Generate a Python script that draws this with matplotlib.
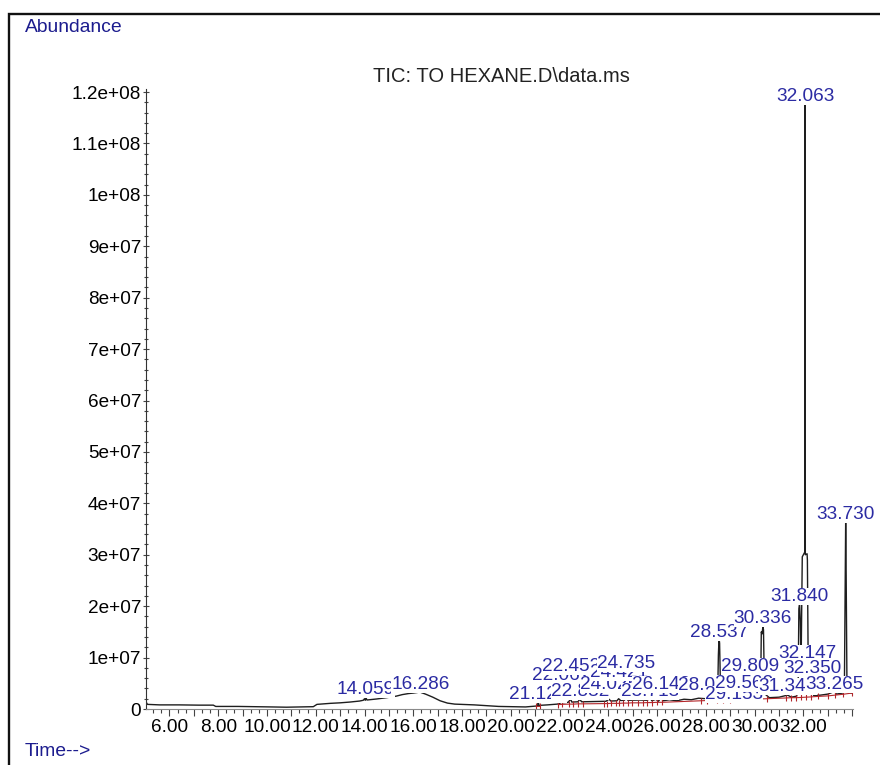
import numpy as np
import matplotlib.pyplot as plt
from matplotlib.patches import Rectangle
from matplotlib.ticker import MultipleLocator, FuncFormatter

plt.rcParams['font.family'] = ['Liberation Sans', 'DejaVu Sans']

# TIC background / peak shoulders (time in min, abundance in millions)
bg_time = [5.05, 5.10, 5.60, 6.40, 7.20, 7.80, 7.90, 8.80, 9.60, 10.20, 10.80, 11.40, 11.90,
           12.05, 12.30, 12.60, 13.00, 13.40, 13.80, 13.95, 14.00, 14.03, 14.10, 14.50, 14.90,
           15.30, 15.55, 15.80, 16.00, 16.15, 16.25, 16.32, 16.50, 16.80, 17.10, 17.40, 17.70,
           18.00, 18.50, 19.00, 19.50, 20.00, 20.60, 21.00, 21.10, 21.15, 21.50, 21.90, 22.02,
           22.10, 22.35, 22.50, 22.75, 22.90, 23.40, 23.90, 24.10, 24.35, 24.50, 24.65, 24.80,
           25.30, 25.60, 25.78, 25.95, 26.05, 26.25, 26.50, 26.80, 27.10, 27.40, 27.70, 28.00,
           28.10, 28.40, 28.48, 28.51, 28.56, 28.60, 28.70, 29.00, 29.25, 29.45, 29.65, 29.90,
           30.15, 30.24, 30.27, 30.30, 30.36, 30.40, 30.60, 31.00, 31.50, 31.72, 31.78, 31.81,
           31.87, 31.90, 31.95, 32.05, 32.075, 32.16, 32.20, 32.30, 32.42, 32.70, 33.00, 33.35,
           33.60, 33.68, 33.71, 33.75, 33.78, 33.85, 33.98]
bg_abund = [1.3, 0.9, 0.8, 0.8, 0.75, 0.75, 0.5, 0.5, 0.45, 0.4, 0.35, 0.4, 0.45,
            0.9, 1.0, 1.1, 1.2, 1.35, 1.55, 1.7, 2.0, 1.7, 1.75, 1.95, 2.2,
            2.5, 2.8, 3.0, 3.1, 3.2, 3.3, 3.2, 2.9, 2.3, 1.6, 1.15, 0.95,
            0.9, 0.8, 0.65, 0.5, 0.45, 0.4, 0.55, 0.6, 0.7, 0.8, 0.95, 1.1,
            1.2, 1.3, 1.35, 1.4, 1.4, 1.45, 1.5, 1.55, 1.6, 1.65, 1.7, 1.7,
            1.75, 1.7, 1.6, 1.9, 1.5, 1.6, 1.8, 1.6, 1.9, 1.8, 2.1, 2.0,
            2.0, 2.1, 2.6, 10.5, 12.8, 3.0, 2.1, 2.3, 2.1, 2.4, 2.2, 2.2,
            2.4, 3.0, 15.0, 14.6, 15.4, 3.0, 2.2, 2.3, 2.3, 2.5, 4.0, 19.5,
            17.0, 8.0, 29.6, 30.5, 30.0, 29.0, 4.0, 2.8, 2.6, 2.7, 2.9, 2.9,
            3.1, 6.0, 24.0, 26.0, 6.0, 3.2, 3.1]

# integrated peaks: retention time, apex abundance (millions), label height (millions)
peak_rt = [14.059, 16.286, 21.122, 22.062, 22.452, 22.832, 24.025, 24.421, 24.735, 25.713,
           26.142, 28.029, 28.537, 29.153, 29.562, 29.809, 30.336, 31.348, 31.840, 32.063,
           32.147, 32.350, 33.265, 33.730]
peak_top = [2.2, 3.7, 1.6, 2.1, 1.9, 1.9, 1.9, 2.0, 2.1, 2.2,
            2.1, 2.5, 13.8, 2.7, 2.9, 2.6, 16.0, 2.7, 20.6, 117.9,
            30.2, 3.4, 3.4, 36.8]
label_at = [4.1, 5.25, 3.3, 7.0, 8.75, 3.7, 5.1, 7.4, 9.3, 3.7,
            5.25, 4.9, 15.2, 3.3, 5.4, 8.6, 17.9, 4.7, 22.2, 119.6,
            11.1, 8.2, 5.25, 38.3]

# integration baseline with start/stop marks (millions)
base_time = [21.05, 21.20, np.nan, 21.95, 22.10, 22.40, 22.55, 22.75, 22.95, 23.80, 23.95,
             24.10, 24.30, 24.45, 24.60, 24.80, 24.95, 25.20, 25.40, 25.60, 25.80, 26.00,
             26.20, 27.80, 28.05, 28.45, 28.70, 29.00, 29.30, 29.60, 29.85, 30.20, 30.50,
             31.30, 31.50, 31.70, 31.90, 32.10, 32.30, 32.60, 33.00, 33.30, 33.60, 33.98]
base_abund = [0.5, 0.5, np.nan, 0.85, 0.9, 0.95, 0.95, 1.0, 1.0, 1.05, 1.05,
              1.1, 1.1, 1.1, 1.15, 1.15, 1.2, 1.2, 1.2, 1.25, 1.25, 1.3,
              1.3, 1.6, 1.65, 1.7, 1.75, 1.8, 1.85, 1.9, 1.9, 1.95, 2.0,
              2.15, 2.2, 2.2, 2.25, 2.3, 2.35, 2.45, 2.55, 2.7, 2.85, 3.1]

order = np.argsort(bg_time + peak_rt)
tic_t = np.array(bg_time + peak_rt)[order]
tic_y = np.array(bg_abund + peak_top)[order] * 1e6

fig = plt.figure(figsize=(8.8, 7.65), dpi=100)
ax = fig.add_axes([146 / 880, 56 / 765, 707 / 880, 620 / 765])

ax.plot(tic_t, tic_y, color="#1e1e1e", lw=1.0, zorder=2)
ax.plot(base_time, np.array(base_abund) * 1e6, color="#b3262a", lw=0.8,
        marker="|", ms=4, mew=0.8, zorder=2)

blue = "#2b2ba3"
for i, (rt, y) in enumerate(zip(peak_rt, label_at)):
    ax.text(rt, y * 1e6, f"{rt:.3f}", ha="center", va="center_baseline", fontsize=13.7,
            color=blue, zorder=5 + i,
            bbox=dict(facecolor="white", edgecolor="none", pad=0))

ax.set_xlim(5.04, 34.03)
ax.set_ylim(0, 1.206e8)

for s in ("top", "right"):
    ax.spines[s].set_visible(False)
ax.spines["left"].set_color("#333333")
ax.spines["bottom"].set_color("#8a8a8a")

ax.xaxis.set_major_locator(MultipleLocator(1))
ax.xaxis.set_minor_locator(MultipleLocator(1 / 3))
ax.xaxis.set_major_formatter(FuncFormatter(
    lambda v, p: f"{v:.2f}" if round(v) % 2 == 0 and v < 33 else ""))
ax.yaxis.set_major_locator(MultipleLocator(1e7))
ax.yaxis.set_minor_locator(MultipleLocator(2e6))
ax.yaxis.set_major_formatter(FuncFormatter(lambda v, p: f"{v:g}"))

ax.tick_params(axis="x", which="major", direction="out", length=5, width=0.8,
               color="#444444", labelsize=13.7, pad=2)
ax.tick_params(axis="x", which="minor", direction="out", length=3, width=0.8, color="#444444")
ax.tick_params(axis="y", which="major", direction="inout", length=5, width=0.8,
               color="#444444", labelsize=13.7, pad=1)
ax.tick_params(axis="y", which="minor", direction="inout", length=3, width=0.8, color="#444444")

fig.add_artist(Rectangle((8.5 / 880, -0.1), 2, 1.1 - 14 / 765, transform=fig.transFigure,
                         fill=False, lw=1.7, edgecolor="#111111"))
fig.text(501 / 880, 1 - 77 / 765, "TIC: TO HEXANE.D\\data.ms", ha="center", va="center",
         fontsize=14.5, color="#222222")
fig.text(25 / 880, 1 - 27 / 765, "Abundance", ha="left", va="center", fontsize=13.9,
         color="#1c1c8e")
fig.text(25 / 880, 1 - 752 / 765, "Time-->", ha="left", va="center", fontsize=13.9,
         color="#1c1c8e")

fig.savefig("out.png", dpi=100)
